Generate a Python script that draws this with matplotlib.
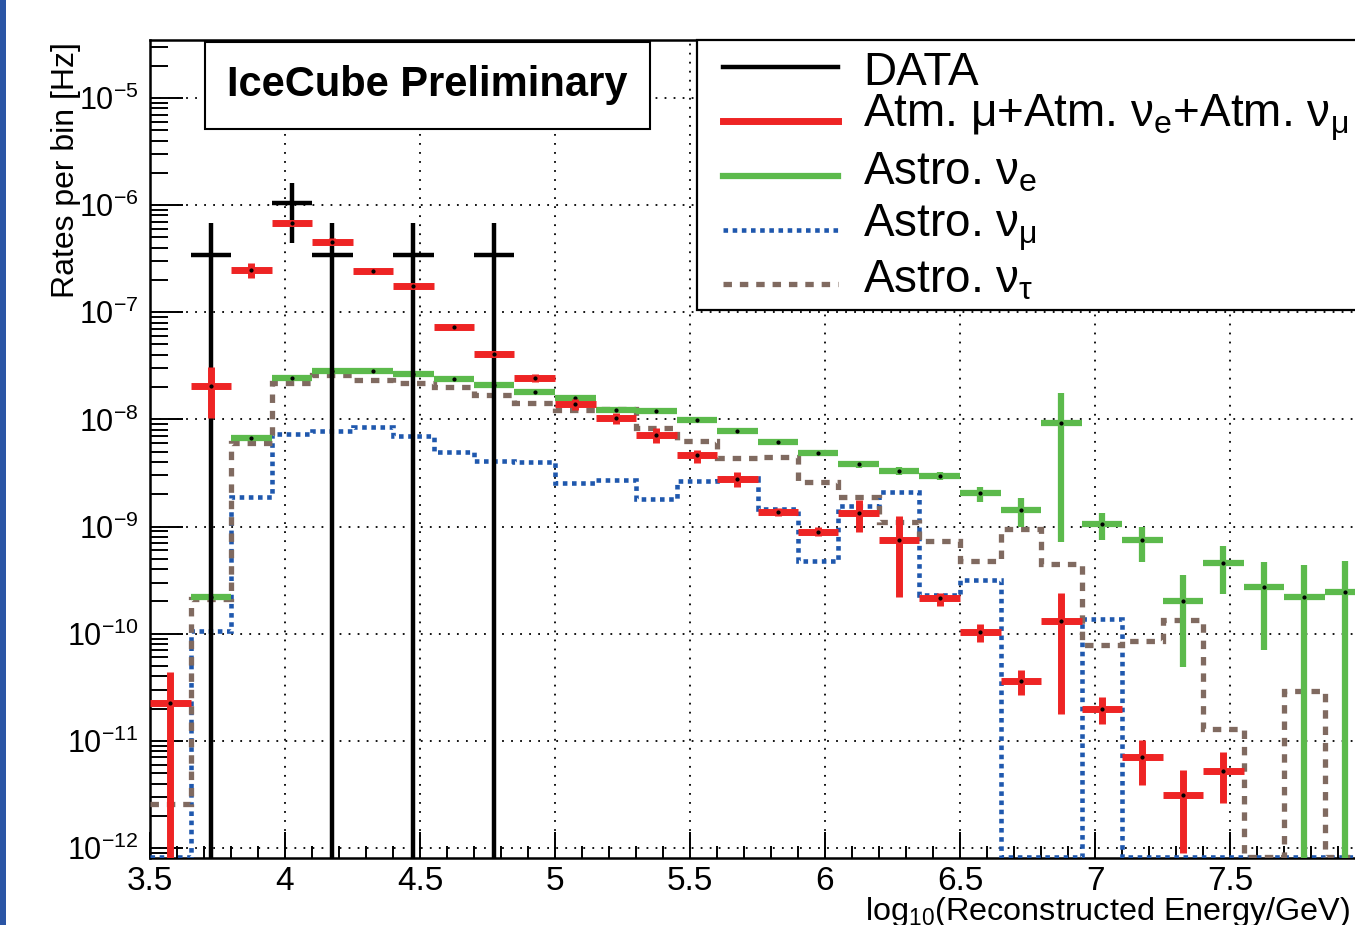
import numpy as np
import matplotlib
matplotlib.use('Agg')
import matplotlib.pyplot as plt
from matplotlib import font_manager
from matplotlib.lines import Line2D
from matplotlib.patches import Rectangle
from matplotlib.ticker import LogLocator, MultipleLocator, NullFormatter, FuncFormatter

# bins in log10(E/GeV)
edges = np.round(3.5 + 0.15 * np.arange(31), 3)
centers = 0.5 * (edges[:-1] + edges[1:])

# DATA (events per bin -> rate)
data = np.array([0, 3.45e-7, 0, 1.04e-6, 3.45e-7, 0, 3.45e-7, 0, 3.45e-7, 0,
                 0, 0, 0, 0, 0, 0, 0, 0, 0, 0, 0, 0, 0, 0, 0, 0, 0, 0, 0, 0])
data_lo = np.array([0, 0, 0, 4.4e-7, 0, 0, 0, 0, 0, 0,
                    0, 0, 0, 0, 0, 0, 0, 0, 0, 0, 0, 0, 0, 0, 0, 0, 0, 0, 0, 0])
data_hi = np.array([0, 6.85e-7, 0, 1.6e-6, 6.85e-7, 0, 6.85e-7, 0, 6.85e-7, 0,
                    0, 0, 0, 0, 0, 0, 0, 0, 0, 0, 0, 0, 0, 0, 0, 0, 0, 0, 0, 0])

# atmospheric mu + nu_e + nu_mu
atm = np.array([2.24e-11, 2.05e-8, 2.48e-7, 6.85e-7, 4.56e-7, 2.41e-7, 1.77e-7, 7.24e-8, 4.1e-8, 2.45e-8,
                1.38e-8, 1.02e-8, 7.1e-9, 4.63e-9, 2.78e-9, 1.38e-9, 8.96e-10, 1.35e-9, 7.5e-10, 2.14e-10,
                1.04e-10, 3.65e-11, 1.3e-10, 2.0e-11, 7.0e-12, 3.13e-12, 5.27e-12, 0, 0, 0])
atm_lo = np.array([0, 1.02e-8, 2.1e-7, 6.6e-7, 4.2e-7, 2.35e-7, 1.7e-7, 6.9e-8, 3.85e-8, 2.25e-8,
                   1.22e-8, 9.0e-9, 6.0e-9, 3.95e-9, 2.34e-9, 1.25e-9, 8.2e-10, 8.96e-10, 2.2e-10, 1.83e-10,
                   8.4e-11, 2.68e-11, 1.8e-11, 1.43e-11, 3.87e-12, 8.98e-13, 2.61e-12, 0, 0, 0])
atm_hi = np.array([4.37e-11, 3.1e-8, 2.9e-7, 7.1e-7, 4.9e-7, 2.47e-7, 1.85e-7, 7.6e-8, 4.35e-8, 2.65e-8,
                   1.55e-8, 1.15e-8, 8.3e-9, 5.2e-9, 3.2e-9, 1.5e-9, 9.8e-10, 1.78e-9, 1.26e-9, 2.4e-10,
                   1.23e-10, 4.58e-11, 2.4e-10, 2.58e-11, 1.02e-11, 5.4e-12, 7.9e-12, 0, 0, 0])

# astrophysical nu_e
astro_e = np.array([0, 2.22e-10, 6.76e-9, 2.42e-8, 2.85e-8, 2.8e-8, 2.65e-8, 2.4e-8, 2.08e-8, 1.82e-8,
                    1.58e-8, 1.23e-8, 1.21e-8, 9.8e-9, 7.75e-9, 6.2e-9, 4.82e-9, 3.81e-9, 3.32e-9, 2.98e-9,
                    2.04e-9, 1.43e-9, 9.2e-9, 1.05e-9, 7.45e-10, 2.04e-10, 4.55e-10, 2.71e-10, 2.22e-10, 2.43e-10])
astro_e_lo = np.array([0, 2.1e-10, 6.5e-9, 2.35e-8, 2.77e-8, 2.72e-8, 2.57e-8, 2.33e-8, 2.01e-8, 1.76e-8,
                       1.52e-8, 1.18e-8, 1.16e-8, 9.4e-9, 7.4e-9, 5.9e-9, 4.55e-9, 3.55e-9, 3.05e-9, 2.72e-9,
                       1.71e-9, 9.97e-10, 7.1e-10, 7.5e-10, 4.7e-10, 4.9e-11, 2.33e-10, 7.0e-11, 0, 0])
astro_e_hi = np.array([0, 2.34e-10, 7.0e-9, 2.5e-8, 2.93e-8, 2.88e-8, 2.73e-8, 2.47e-8, 2.15e-8, 1.88e-8,
                       1.64e-8, 1.28e-8, 1.26e-8, 1.02e-8, 8.1e-9, 6.5e-9, 5.1e-9, 4.05e-9, 3.6e-9, 3.25e-9,
                       2.35e-9, 1.84e-9, 1.75e-8, 1.33e-9, 1.0e-9, 3.53e-10, 6.64e-10, 4.7e-10, 4.37e-10, 4.77e-10])

# astrophysical nu_mu
astro_mu = np.array([0, 1.05e-10, 1.9e-9, 7.3e-9, 7.8e-9, 8.4e-9, 7.06e-9, 5.0e-9, 4.12e-9, 3.98e-9,
                     2.57e-9, 2.69e-9, 1.8e-9, 2.67e-9, 2.82e-9, 1.46e-9, 4.78e-10, 1.57e-9, 2.12e-9, 2.3e-10,
                     3.17e-10, 0, 0, 1.37e-10, 0, 0, 0, 0, 0, 0])

# astrophysical nu_tau
astro_tau = np.array([2.56e-12, 2.1e-10, 5.98e-9, 2.17e-8, 2.6e-8, 2.33e-8, 2.17e-8, 2.0e-8, 1.69e-8, 1.41e-8,
                      1.22e-8, 1.25e-8, 8.3e-9, 6.33e-9, 4.34e-9, 4.45e-9, 2.63e-9, 1.88e-9, 1.1e-9, 7.33e-10,
                      4.78e-10, 9.5e-10, 4.45e-10, 7.85e-11, 8.55e-11, 1.34e-10, 1.29e-11, 0, 2.92e-11, 0])

legend_labels = [
    'DATA',
    r'Atm. μ+Atm. ν$_{\mathrm{e}}$+Atm. ν$_{\mathrm{μ}}$',
    r'Astro. ν$_{\mathrm{e}}$',
    r'Astro. ν$_{\mathrm{μ}}$',
    r'Astro. ν$_{\mathrm{τ}}$',
]

ymin, ymax = 8.07e-13, 3.47e-5

c_data = 'black'
c_atm = '#EE2424'
c_e = '#5CBA4C'
c_mu = '#1F58AE'
c_tau = '#806A60'

names = {f.name for f in font_manager.fontManager.ttflist}
font = 'Liberation Sans' if 'Liberation Sans' in names else 'DejaVu Sans'
narrow = 'Liberation Sans Narrow' if 'Liberation Sans Narrow' in names else font

plt.rcParams['font.family'] = [font, 'DejaVu Sans']
plt.rcParams['mathtext.fontset'] = 'custom'
plt.rcParams['mathtext.rm'] = font
plt.rcParams['mathtext.it'] = font + ':italic'
plt.rcParams['mathtext.bf'] = font + ':bold'
plt.rcParams['axes.unicode_minus'] = False

W, H = 1355, 925
fig = plt.figure(figsize=(W / 100, H / 100), dpi=100)
ax = fig.add_axes([150 / W, 67 / H, 1215 / W, 818 / H])
ax.set_yscale('log')
ax.set_xlim(3.5, 8.0)
ax.set_ylim(ymin, ymax)

mu_style = dict(color=c_mu, lw=3.3, ls=(0, (1.0, 1.0)))
tau_style = dict(color=c_tau, lw=3.8, ls=(0, (1.6, 1.5)))


def steps(vals, style, z):
    v = np.where(vals > 0, vals, ymin * 1.02)
    st = ax.stairs(v, edges, baseline=None, color=style['color'], lw=style['lw'], zorder=z)
    st.set_linestyle(style['ls'])


def cross(vals, lo, hi, color, lw, z):
    m = vals > 0
    ax.hlines(vals[m], edges[:-1][m], edges[1:][m], color=color, lw=lw, zorder=z)
    ax.vlines(centers[m], np.where(lo[m] > 0, lo[m], ymin * 0.5), hi[m], color=color, lw=lw, zorder=z)
    if color != 'black':
        ax.plot(centers[m], vals[m], 'o', color='black', ms=2, zorder=z + 0.1)


steps(astro_mu, mu_style, 3)
steps(astro_tau, tau_style, 4)
cross(astro_e, astro_e_lo, astro_e_hi, c_e, 4.5, 5)
cross(data, data_lo, data_hi, c_data, 3.2, 6)
cross(atm, atm_lo, atm_hi, c_atm, 5.0, 7)

# axes styling (ROOT-like)
ax.xaxis.set_major_locator(MultipleLocator(0.5))
ax.xaxis.set_minor_locator(MultipleLocator(0.1))
ax.xaxis.set_major_formatter(FuncFormatter(lambda v, p: '%g' % v if v < 7.9 else ''))
ax.yaxis.set_major_locator(LogLocator(base=10, numticks=20))
ax.yaxis.set_minor_locator(LogLocator(base=10, subs=np.arange(2, 10), numticks=20))
ax.yaxis.set_minor_formatter(NullFormatter())
ax.tick_params(axis='both', which='both', direction='in', top=False, right=False, colors='black', width=1.4)
ax.tick_params(axis='y', which='major', length=24, labelsize=22, pad=8)
ax.tick_params(axis='y', which='minor', length=13)
ax.tick_params(axis='x', which='major', length=19, labelsize=24, pad=6)
ax.tick_params(axis='x', which='minor', length=9)
ax.grid(True, which='major', color='black', ls=(0, (1, 4)), lw=1.3)
for s in ax.spines.values():
    s.set_linewidth(1.8)

# legend box drawn by hand (ROOT TLegend layout), right side runs off the picture
fig.add_artist(Rectangle((697 / W, 1 - 310 / H), 700 / W, 270 / H, transform=fig.transFigure,
                         facecolor='white', edgecolor='black', lw=1.6, zorder=10))
leg_styles = [dict(color=c_data, lw=3.2, ls='-'), dict(color=c_atm, lw=5.0, ls='-'),
              dict(color=c_e, lw=4.5, ls='-'), mu_style, tau_style]
line_y = [67, 121, 176, 230, 284]
text_y = [85, 127, 185, 238, 293]
for st, ly, ty, lab in zip(leg_styles, line_y, text_y, legend_labels):
    fig.add_artist(Line2D([723 / W, 838 / W], [1 - ly / H, 1 - ly / H], transform=fig.transFigure,
                          zorder=11, **st))
    fig.text(863 / W, 1 - ty / H, lab, fontsize=33, ha='left', va='baseline', zorder=12)

# IceCube Preliminary box
fig.add_artist(Rectangle((205 / W, 1 - 129 / H), 445 / W, 87 / H, transform=fig.transFigure,
                         facecolor='white', edgecolor='black', lw=1.5, zorder=10))
fig.text(427 / W, 1 - 85 / H, 'IceCube Preliminary', family=narrow, weight='bold',
         fontsize=30, ha='center', va='center', zorder=11)

fig.text(66 / W, 1 - 42 / H, 'Rates per bin [Hz]', rotation=90, ha='center', va='top', fontsize=23)
fig.text(1350 / W, 5 / H, r'log$_{10}$(Reconstructed Energy/GeV)', ha='right', va='baseline',
         fontsize=23.3)

# slide border strip on the left
fig.add_artist(Rectangle((0, 0), 6 / W, 1, transform=fig.transFigure, color='#2A55A5', lw=0, zorder=30))

fig.savefig('out.png', dpi=100)
